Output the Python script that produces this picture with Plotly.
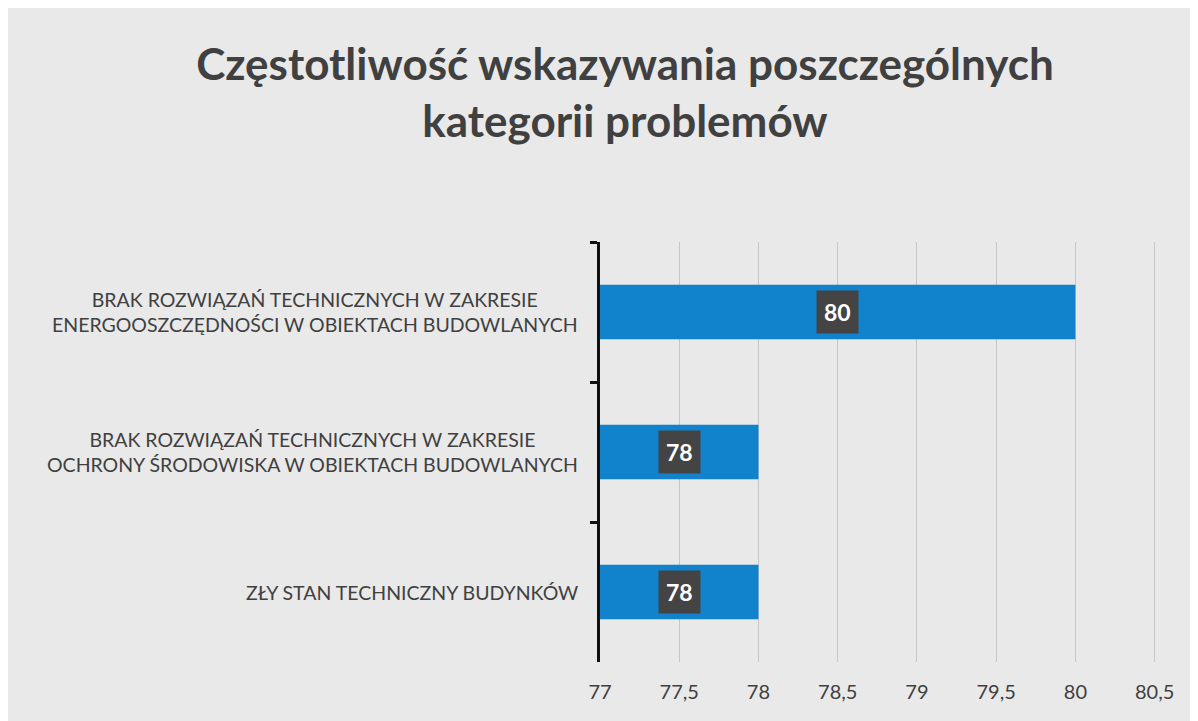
import plotly.graph_objects as go

categories = [
    "BRAK ROZWIĄZAŃ TECHNICZNYCH W ZAKRESIE<br>ENERGOOSZCZĘDNOŚCI W OBIEKTACH BUDOWLANYCH",
    "BRAK ROZWIĄZAŃ TECHNICZNYCH W ZAKRESIE<br>OCHRONY ŚRODOWISKA W OBIEKTACH BUDOWLANYCH",
    "ZŁY STAN TECHNICZNY BUDYNKÓW",
]
values = [80, 78, 78]
tick_vals = [77, 77.5, 78, 78.5, 79, 79.5, 80, 80.5]
tick_text = ["77", "77,5", "78", "78,5", "79", "79,5", "80", "80,5"]
axis_min = 77
axis_max = 80.5

title = "Częstotliwość wskazywania poszczególnych<br>kategorii problemów"

FONT = "Lato, 'Open Sans', sans-serif"
TXT = "#404040"

fig = go.Figure()
fig.add_trace(go.Bar(
    y=categories, x=values, orientation="h",
    marker=dict(color="#1083cc", line=dict(width=0)),
    hoverinfo="x+y",
))

annotations = []
for c, v in zip(categories, values):
    annotations.append(dict(
        x=(axis_min + v) / 2, y=c, xref="x", yref="y",
        text=f"<b>{v}</b>", showarrow=False,
        font=dict(family=FONT, size=23, color="white"),
        bgcolor="#444444", borderpad=7,
    ))
    annotations.append(dict(
        x=0, y=c, xref="x domain", yref="y",
        text=c, showarrow=False, xanchor="right", xshift=-20,
        align="center",
        font=dict(family=FONT, size=19.5, color=TXT),
    ))

fig.update_layout(
    width=1198, height=721,
    paper_bgcolor="#e9e9e9", plot_bgcolor="#e9e9e9",
    margin=dict(l=592, r=49, t=234, b=67),
    title=dict(text=title, x=0.515, xanchor="center", y=0.9, yanchor="top",
               font=dict(family=FONT, size=44, color=TXT, weight="bold")),
    bargap=0.61,
    showlegend=False,
    annotations=annotations,
    xaxis=dict(
        range=[axis_min, axis_max + 0.015],
        tickvals=tick_vals, ticktext=tick_text,
        showgrid=True, gridcolor="#c6c6c6", gridwidth=1,
        zeroline=False, showline=False, ticks="",
        ticklabelstandoff=16,
        tickfont=dict(family=FONT, size=20, color=TXT),
    ),
    yaxis=dict(
        autorange="reversed", showticklabels=False,
        showline=True, linecolor="#111111", linewidth=2.5,
        ticks="outside", tickson="boundaries", ticklen=7,
        tickcolor="#111111", tickwidth=2.5, showgrid=False,
    ),
)

fig.write_html("out.html")
